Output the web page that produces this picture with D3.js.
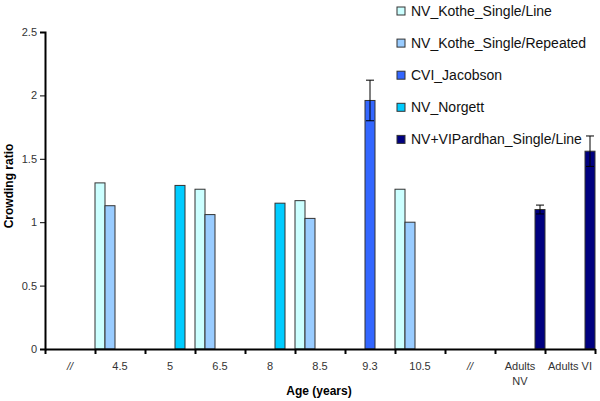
<!DOCTYPE html>
<html>
<head>
<meta charset="utf-8">
<script src="https://cdn.jsdelivr.net/npm/d3@7"></script>
<style>
  body { margin: 0; background: #fff; }
  svg { font-family: "Liberation Sans", Arial, sans-serif; }
  .tick text { fill: #333; font-size: 11px; }
  .axis path, .axis line { stroke: #000; }
</style>
</head>
<body>
<svg id="chart" width="600" height="401"></svg>
<script>
'use strict';

// Categories along the x axis (the "//" marks are axis breaks).
const categories = ['//', '4.5', '5', '6.5', '8', '8.5', '9.3', '10.5', '//', 'Adults NV', 'Adults VI'];

const seriesNames = [
  'NV_Kothe_Single/Line',
  'NV_Kothe_Single/Repeated',
  'CVI_Jacobson',
  'NV_Norgett',
  'NV+VIPardhan_Single/Line'
];
const seriesColors = ['#ccffff', '#99ccff', '#3366ff', '#00ccff', '#000080'];

// One value per category, null where the series has no bar.
const kotheLine     = [null, 1.31, null, 1.26, null, 1.17, null, 1.26, null, null, null];
const kotheRepeated = [null, 1.13, null, 1.06, null, 1.03, null, 1.00, null, null, null];
const cviJacobson   = [null, null, null, null, null, null, 1.96, null, null, null, null];
const nvNorgett     = [null, null, 1.29, null, 1.15, null, null, null, null, null, null];
const pardhan       = [null, null, null, null, null, null, null, null, null, 1.10, 1.56];

// Error bar half-widths (same layout as values).
const cviJacobsonErr = [null, null, null, null, null, null, 0.16, null, null, null, null];
const pardhanErr     = [null, null, null, null, null, null, null, null, null, 0.035, 0.12];

const yTicks = [0, 0.5, 1, 1.5, 2, 2.5];

const seriesValues = [kotheLine, kotheRepeated, cviJacobson, nvNorgett, pardhan];
const seriesErrors = [null, null, cviJacobsonErr, null, pardhanErr];

const svg = d3.select('#chart');
const margin = { left: 45, right: 5, top: 32, bottom: 52 };
const width = 600, height = 401;

const x = d3.scaleBand()
  .domain(d3.range(categories.length))
  .range([margin.left, width - margin.right])
  .padding(0);

const xSub = d3.scaleBand()
  .domain(d3.range(seriesNames.length))
  .range([0, x.bandwidth()])
  .padding(0);

const y = d3.scaleLinear()
  .domain([0, 2.5])
  .range([height - margin.bottom, margin.top]);

// Bars
const barData = [];
seriesValues.forEach((vals, s) => {
  vals.forEach((v, i) => {
    if (v == null) return;
    const err = seriesErrors[s] ? seriesErrors[s][i] : null;
    barData.push({ s, i, v, err });
  });
});

const bars = svg.append('g').attr('class', 'bars');
bars.selectAll('rect')
  .data(barData)
  .join('rect')
    .attr('x', d => x(d.i) + xSub(d.s))
    .attr('y', d => y(d.v))
    .attr('width', xSub.bandwidth())
    .attr('height', d => y(0) - y(d.v))
    .attr('fill', d => seriesColors[d.s])
    .attr('stroke', '#333')
    .attr('stroke-width', 1);

// Error bars
const errs = svg.append('g').attr('class', 'errors')
  .selectAll('g')
  .data(barData.filter(d => d.err != null))
  .join('g')
    .attr('stroke', '#000')
    .attr('stroke-width', 1);
const cx = d => x(d.i) + xSub(d.s) + xSub.bandwidth() / 2;
errs.append('line')
  .attr('x1', cx).attr('x2', cx)
  .attr('y1', d => y(d.v + d.err)).attr('y2', d => y(d.v - d.err));
[1, -1].forEach(sign => {
  errs.append('line')
    .attr('x1', d => cx(d) - 4).attr('x2', d => cx(d) + 4)
    .attr('y1', d => y(d.v + sign * d.err)).attr('y2', d => y(d.v + sign * d.err));
});

// Y axis
const yAxis = svg.append('g')
  .attr('class', 'axis')
  .attr('transform', `translate(${margin.left},0)`)
  .call(d3.axisLeft(y).tickValues(yTicks).tickSize(5).tickPadding(3)
    .tickFormat(d => d));
yAxis.select('.domain').attr('stroke-width', 2);

// X axis: tick marks on category boundaries, labels in the middle
const xEdge = d3.scaleLinear()
  .domain([0, categories.length])
  .range([margin.left, width - margin.right]);
const xAxis = svg.append('g')
  .attr('class', 'axis')
  .attr('transform', `translate(0,${y(0)})`)
  .call(d3.axisBottom(xEdge).tickValues(d3.range(categories.length + 1))
    .tickSize(5).tickSizeOuter(0).tickFormat(''));
xAxis.select('.domain').attr('stroke-width', 2);
xAxis.selectAll('.tick line').attr('stroke-width', 2);

const xLabels = svg.append('g')
  .selectAll('text')
  .data(categories)
  .join('text')
    .attr('x', (d, i) => x(i) + x.bandwidth() / 2)
    .attr('y', y(0) + 21)
    .attr('text-anchor', 'middle')
    .attr('fill', '#333')
    .attr('font-size', 11)
    .attr('font-style', d => d === '//' ? 'italic' : null);
xLabels.each(function(d) {
  const t = d3.select(this);
  const parts = d === 'Adults NV' ? ['Adults', 'NV'] : [d];
  parts.forEach((p, k) => {
    t.append('tspan')
      .attr('x', t.attr('x'))
      .attr('dy', k === 0 ? 0 : 15)
      .text(p);
  });
});

// Axis titles
svg.append('text')
  .attr('transform', 'translate(13,186) rotate(-90)')
  .attr('text-anchor', 'middle')
  .attr('font-weight', 'bold')
  .attr('font-size', 12)
  .text('Crowding ratio');

svg.append('text')
  .attr('x', 319)
  .attr('y', 395)
  .attr('text-anchor', 'middle')
  .attr('font-weight', 'bold')
  .attr('font-size', 12)
  .text('Age (years)');

// Legend
const legend = svg.append('g')
  .attr('transform', 'translate(397,11)')
  .selectAll('g')
  .data(seriesNames)
  .join('g')
    .attr('transform', (d, i) => `translate(0,${i * 32.1})`);
legend.append('rect')
  .attr('x', 0).attr('y', -4)
  .attr('width', 8).attr('height', 8)
  .attr('fill', (d, i) => seriesColors[i])
  .attr('stroke', '#333');
legend.append('text')
  .attr('x', 14)
  .attr('y', 5)
  .attr('font-size', 14)
  .attr('fill', '#111')
  .text(d => d);
</script>
</body>
</html>
